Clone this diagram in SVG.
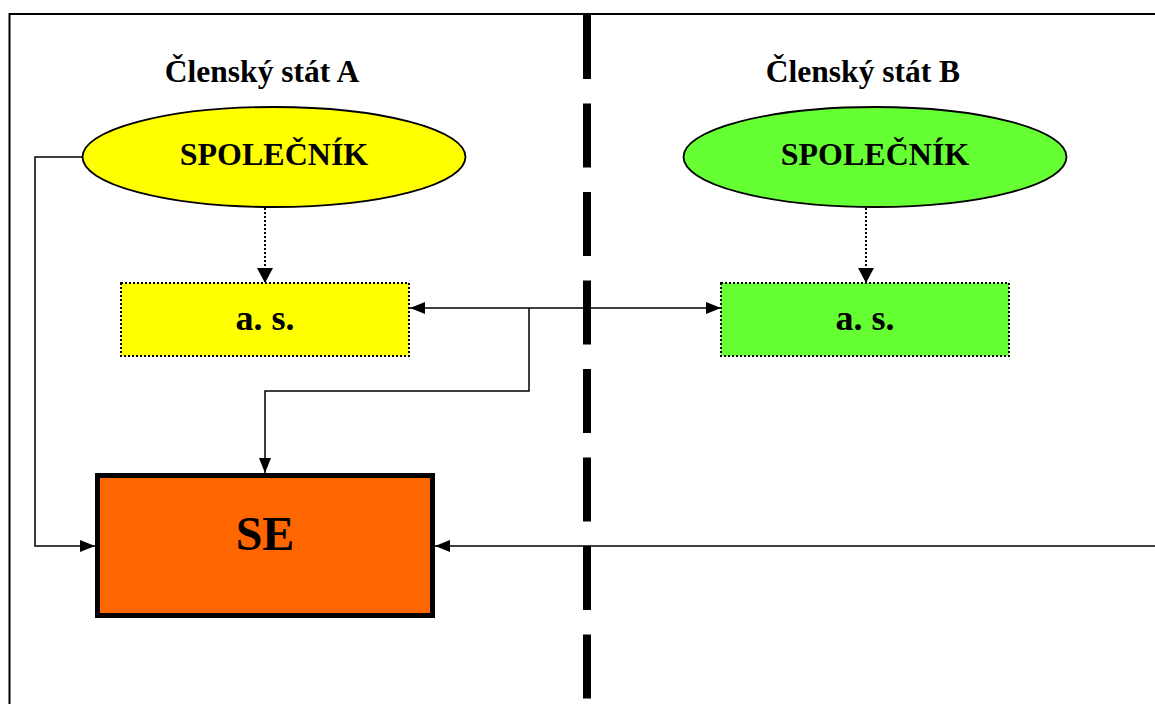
<svg xmlns="http://www.w3.org/2000/svg" width="1155" height="704" viewBox="0 0 1155 704">
<style>
text{font-family:"Liberation Serif","Times New Roman",serif;font-weight:bold;fill:#000;text-anchor:middle}
.title{font-size:31.5px}
.sp{font-size:32px}
.as{font-size:36px}
.se{font-size:48px}
.c{fill:none;stroke:#000;stroke-width:1.5}
.dot{fill:none;stroke:#000;stroke-width:2;stroke-dasharray:2 2}
</style>
<defs>
<marker id="ar" markerWidth="16" markerHeight="12" refX="15" refY="6" orient="auto" markerUnits="userSpaceOnUse">
<path d="M0,0 L15,6 L0,12 Z" fill="#000"/>
</marker>
<marker id="ad" markerWidth="16" markerHeight="16" refX="15" refY="8" orient="auto" markerUnits="userSpaceOnUse">
<path d="M0,0 L15,8 L0,16 Z" fill="#000"/>
</marker>
</defs>
<rect width="1155" height="704" fill="#fff"/>
<g id="frame">
<path d="M9.5,704 V14 H1155" fill="none" stroke="#000" stroke-width="2"/>
</g>
<g id="border">
<line x1="587" y1="15" x2="587" y2="704" stroke="#000" stroke-width="8" stroke-dasharray="64 24.5"/>
</g>
<g id="labels">
<text class="title" x="262" y="82">Členský stát A</text>
<text class="title" x="863" y="82">Členský stát B</text>
</g>
<g id="connectors">
<path class="c" d="M83,157 H35 V546 H95" marker-end="url(#ar)"/>
<path class="dot" d="M265,208 V283" marker-end="url(#ad)"/>
<path class="dot" d="M866,208 V283" marker-end="url(#ad)"/>
<path class="c" d="M560,308 H410" marker-end="url(#ar)"/>
<path class="c" d="M560,308 H721" marker-end="url(#ar)"/>
<path class="c" d="M529,308 V391 H265 V473" marker-end="url(#ar)"/>
<path class="c" d="M1155,546 H435" marker-end="url(#ar)"/>
</g>
<g id="partnerA">
<ellipse cx="274" cy="157" rx="191.5" ry="50" fill="#ffff00" stroke="#000" stroke-width="1.8"/>
<text class="sp" x="274" y="165">SPOLEČNÍK</text>
</g>
<g id="partnerB">
<ellipse cx="875" cy="157" rx="191.5" ry="50" fill="#66ff33" stroke="#000" stroke-width="1.8"/>
<text class="sp" x="875" y="165">SPOLEČNÍK</text>
</g>
<g id="asA">
<rect x="121" y="283" width="288" height="73" fill="#ffff00"/>
<rect class="dot" x="121" y="283" width="288" height="73"/>
<text class="as" x="265" y="330">a. s.</text>
</g>
<g id="asB">
<rect x="721" y="283" width="288" height="73" fill="#66ff33"/>
<rect class="dot" x="721" y="283" width="288" height="73"/>
<text class="as" x="865" y="330">a. s.</text>
</g>
<g id="se">
<rect x="97.5" y="475.5" width="335" height="140" fill="#ff6600" stroke="#000" stroke-width="5"/>
<text class="se" x="265" y="550">SE</text>
</g>
</svg>
